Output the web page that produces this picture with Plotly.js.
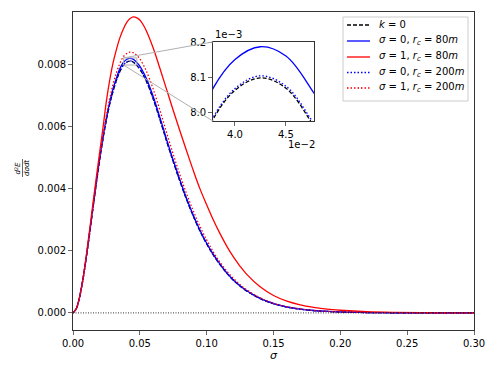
<!DOCTYPE html>
<html>
<head>
<meta charset="utf-8">
<script src="https://cdn.plot.ly/plotly-3.0.1.min.js"></script>
<style>
  html, body { margin: 0; padding: 0; background: #fff; }
  #chart { width: 498px; height: 374px; }
</style>
</head>
<body>
<div id="chart"></div>
<script>
// sigma grid (x axis)
const sigma = [0, 0.0025, 0.005, 0.0075, 0.01, 0.0125, 0.015, 0.0175, 0.02, 0.0225,
  0.025, 0.0275, 0.03, 0.0325, 0.035, 0.0375, 0.04, 0.0425, 0.045, 0.0475,
  0.05, 0.0525, 0.055, 0.06, 0.065, 0.07, 0.075, 0.08, 0.085, 0.09,
  0.095, 0.1, 0.105, 0.11, 0.115, 0.12, 0.125, 0.13, 0.14, 0.15,
  0.16, 0.17, 0.18, 0.19, 0.2, 0.22, 0.24, 0.26, 0.28, 0.3];

// d2E/dsigma dt, in units of 1e-3
const k0 = [0, 0.14, 0.52, 1.09, 1.80, 2.58, 3.38, 4.18, 4.93, 5.61,
  6.21, 6.72, 7.14, 7.48, 7.76, 7.96, 8.063, 8.099, 8.069, 7.97,
  7.84, 7.66, 7.44, 6.88, 6.22, 5.53, 4.86, 4.23, 3.64, 3.11,
  2.63, 2.22, 1.86, 1.55, 1.28, 1.05, 0.86, 0.70, 0.46, 0.295,
  0.19, 0.12, 0.076, 0.048, 0.03, 0.012, 0.005, 0.002, 0.001, 0.0003];
const s0rc80 = [0, 0.14, 0.52, 1.10, 1.82, 2.61, 3.42, 4.23, 4.99, 5.67,
  6.28, 6.79, 7.22, 7.56, 7.85, 8.05, 8.152, 8.189, 8.162, 8.066,
  7.94, 7.75, 7.53, 6.96, 6.29, 5.59, 4.91, 4.28, 3.68, 3.14,
  2.66, 2.24, 1.88, 1.57, 1.29, 1.06, 0.87, 0.71, 0.465, 0.30,
  0.19, 0.12, 0.077, 0.049, 0.03, 0.012, 0.005, 0.002, 0.001, 0.0003];
const s1rc80 = [0, 0.14, 0.53, 1.12, 1.87, 2.70, 3.55, 4.38, 5.18, 5.98,
  6.82, 7.50, 8.05, 8.48, 8.84, 9.12, 9.33, 9.46, 9.52, 9.50,
  9.42, 9.27, 9.06, 8.52, 7.87, 7.19, 6.51, 5.85, 5.21, 4.58,
  3.99, 3.48, 2.99, 2.55, 2.15, 1.80, 1.50, 1.24, 0.84, 0.56,
  0.38, 0.26, 0.18, 0.12, 0.085, 0.04, 0.018, 0.008, 0.004, 0.002];
const s0rc200 = [0, 0.14, 0.52, 1.09, 1.80, 2.58, 3.38, 4.18, 4.93, 5.61,
  6.21, 6.72, 7.14, 7.48, 7.76, 7.965, 8.068, 8.105, 8.075, 7.977,
  7.85, 7.67, 7.45, 6.89, 6.23, 5.54, 4.87, 4.24, 3.65, 3.12,
  2.64, 2.23, 1.87, 1.56, 1.29, 1.06, 0.87, 0.71, 0.465, 0.30,
  0.19, 0.12, 0.077, 0.049, 0.03, 0.012, 0.005, 0.002, 0.001, 0.0003];
const s1rc200 = [0, 0.14, 0.52, 1.09, 1.80, 2.59, 3.41, 4.23, 5.00, 5.71,
  6.35, 6.90, 7.36, 7.73, 8.02, 8.23, 8.34, 8.39, 8.375, 8.295,
  8.17, 7.99, 7.77, 7.20, 6.52, 5.80, 5.10, 4.44, 3.83, 3.28,
  2.78, 2.35, 1.96, 1.63, 1.35, 1.11, 0.91, 0.74, 0.485, 0.31,
  0.20, 0.126, 0.08, 0.051, 0.032, 0.013, 0.005, 0.002, 0.001, 0.0003];

const seriesNames = [
  '<i>k</i> = 0',
  '<i>σ</i> = 0, <i>r</i><sub><i>c</i></sub> = 80<i>m</i>',
  '<i>σ</i> = 1, <i>r</i><sub><i>c</i></sub> = 80<i>m</i>',
  '<i>σ</i> = 0, <i>r</i><sub><i>c</i></sub> = 200<i>m</i>',
  '<i>σ</i> = 1, <i>r</i><sub><i>c</i></sub> = 200<i>m</i>'
];

const mainTicks = [0, 0.002, 0.004, 0.006, 0.008];
const xTicks = [0, 0.05, 0.1, 0.15, 0.2, 0.25, 0.3];
const insetXTicks = [0.04, 0.045];
const insetYTicks = [0.008, 0.0081, 0.0082];

const xRange = [0, 0.3];
const yRange = [-0.00055, 0.00968];
const insetX = [0.03784, 0.04775];
const insetY = [0.007974, 0.008203];
const insetDomX = [0.349, 0.601];
const insetDomY = [0.657, 0.906];

const styles = [
  {color: 'black', dash: '4px,2px'},
  {color: 'blue', dash: 'solid'},
  {color: 'red', dash: 'solid'},
  {color: 'blue', dash: '1.5px,2px'},
  {color: 'red', dash: '1.5px,2px'}
];
const allSeries = [k0, s0rc80, s1rc80, s0rc200, s1rc200];

const data = [];
allSeries.forEach((s, i) => {
  const y = s.map(v => v / 1000);
  const line = {color: styles[i].color, dash: styles[i].dash, width: 1.3, shape: 'spline', smoothing: 1};
  data.push({x: sigma, y: y, type: 'scatter', mode: 'lines', name: seriesNames[i],
    showlegend: false, line: line});
  data.push({x: sigma, y: y, type: 'scatter', mode: 'lines', xaxis: 'x2', yaxis: 'y2',
    showlegend: false, hoverinfo: 'skip', line: line});
});

// paper -> main data coordinates, for the inset connectors
const px = d => xRange[0] + d * (xRange[1] - xRange[0]);
const py = d => yRange[0] + d * (yRange[1] - yRange[0]);
// pixel -> paper, for the legend box and stacked y label
const plotL = 73, plotT = 12, plotW = 401, plotH = 318;
const pxPaper = p => (p - plotL) / plotW;
const pyPaper = p => (plotT + plotH - p) / plotH;

const tickFont = {family: 'DejaVu Sans', size: 10, color: 'black'};
const labelFont = {family: 'DejaVu Sans', size: 7, color: 'black'};
const grey = '#b0b0b0';

const shapes = [
  // horizontal dotted zero line
  {type: 'line', xref: 'paper', yref: 'y', x0: 0, x1: 1, y0: 0, y1: 0,
    line: {color: 'black', width: 0.8, dash: '1px,1.5px'}},
  // zoom region box
  {type: 'rect', xref: 'x', yref: 'y', x0: insetX[0], x1: insetX[1], y0: insetY[0], y1: insetY[1],
    line: {color: grey, width: 1}},
  // connectors to the inset
  {type: 'line', xref: 'x', yref: 'y', x0: insetX[0], y0: insetY[1],
    x1: px(insetDomX[0]), y1: py(insetDomY[1]), line: {color: grey, width: 1}},
  {type: 'line', xref: 'x', yref: 'y', x0: insetX[0], y0: insetY[0],
    x1: px(insetDomX[0]), y1: py(insetDomY[0]), line: {color: grey, width: 1}},
  // fraction bar of the y label
  {type: 'line', xref: 'paper', yref: 'paper', x0: pxPaper(22.5), x1: pxPaper(22.5),
    y0: pyPaper(159), y1: pyPaper(177), line: {color: 'black', width: 0.6}},
  // legend frame
  {type: 'rect', xref: 'paper', yref: 'paper', x0: pxPaper(343), x1: pxPaper(468),
    y0: pyPaper(101), y1: pyPaper(17), fillcolor: 'white', line: {color: '#cccccc', width: 1}}
];

const annotations = [
  {text: '1e−3', xref: 'paper', yref: 'paper', x: insetDomX[0], y: insetDomY[1],
    xanchor: 'left', yanchor: 'bottom', showarrow: false, font: tickFont},
  {text: '1e−2', xref: 'paper', yref: 'paper', x: insetDomX[1] + 0.008, y: pyPaper(137),
    xanchor: 'right', yanchor: 'top', showarrow: false, font: tickFont},
  {text: '<i>d</i><sup>2</sup><i>E</i>', xref: 'paper', yref: 'paper',
    x: pxPaper(17.5), y: pyPaper(168), xanchor: 'center', yanchor: 'middle', textangle: -90,
    showarrow: false, font: labelFont},
  {text: '<i>dσdt</i>', xref: 'paper', yref: 'paper',
    x: pxPaper(27), y: pyPaper(168), xanchor: 'center', yanchor: 'middle', textangle: -90,
    showarrow: false, font: labelFont}
];

// legend entries
const rowY = [25, 41, 57, 72.5, 88];
seriesNames.forEach((name, i) => {
  shapes.push({type: 'line', xref: 'paper', yref: 'paper',
    x0: pxPaper(347), x1: pxPaper(370), y0: pyPaper(rowY[i]), y1: pyPaper(rowY[i]),
    line: {color: styles[i].color, width: 1.3, dash: styles[i].dash}});
  annotations.push({text: name, xref: 'paper', yref: 'paper',
    x: pxPaper(377), y: pyPaper(rowY[i]), xanchor: 'left', yanchor: 'middle',
    showarrow: false, font: tickFont});
});

const layout = {
  width: 498,
  height: 374,
  margin: {l: 73, r: 24, t: 12, b: 44},
  paper_bgcolor: 'white',
  plot_bgcolor: 'white',
  font: {family: 'DejaVu Sans', size: 10, color: 'black'},
  showlegend: false,
  xaxis: {
    range: xRange, tickvals: xTicks, ticktext: xTicks.map(v => v.toFixed(2)),
    ticks: 'outside', ticklen: 4, tickwidth: 0.8, showgrid: false, zeroline: false,
    showline: true, mirror: true, linecolor: 'black', linewidth: 0.8, tickfont: tickFont,
    title: {text: '<i>σ</i>', font: {family: 'DejaVu Sans', size: 11}, standoff: 2}
  },
  yaxis: {
    range: yRange, tickvals: mainTicks, ticktext: mainTicks.map(v => v.toFixed(3)),
    ticks: 'outside', ticklen: 4, tickwidth: 0.8, showgrid: false, zeroline: false,
    showline: true, mirror: true, linecolor: 'black', linewidth: 0.8, tickfont: tickFont
  },
  xaxis2: {
    domain: insetDomX, anchor: 'y2', range: insetX,
    tickvals: insetXTicks, ticktext: ['4.0', '4.5'],
    ticks: 'outside', ticklen: 4, tickwidth: 0.8, showgrid: false, zeroline: false,
    showline: true, mirror: true, linecolor: 'black', linewidth: 0.8, tickfont: tickFont
  },
  yaxis2: {
    domain: insetDomY, anchor: 'x2', range: insetY,
    tickvals: insetYTicks, ticktext: ['8.0', '8.1', '8.2'],
    ticks: 'outside', ticklen: 4, tickwidth: 0.8, showgrid: false, zeroline: false,
    showline: true, mirror: true, linecolor: 'black', linewidth: 0.8, tickfont: tickFont
  },
  shapes: shapes,
  annotations: annotations
};

Plotly.newPlot('chart', data, layout, {displayModeBar: false, staticPlot: true});
</script>
</body>
</html>
